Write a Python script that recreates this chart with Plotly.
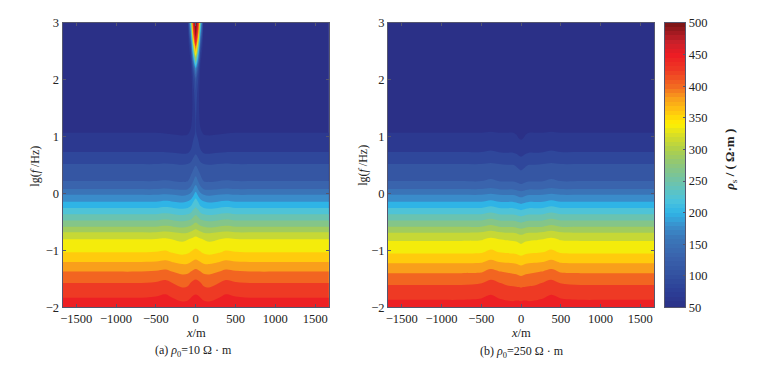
import plotly.graph_objects as go

# half-profile distances from the centre (m); the sections are drawn mirrored
x_half = [0, 30, 60, 100, 170, 280, 380, 500, 750, 1100, 1672]
lg_f = [3, 2.8, 2.6, 2.4, 2.2, 2, 1.5, 1.07, .73, .52, .22, .08, -.02, -.14, -.25, -.36,
        -.47, -.58, -.68, -.80, -1.03, -1.2, -1.37, -1.57, -1.83, -2]

rho_a = [
    [522, 460, 260, 50, 50, 50, 50, 50, 50, 50, 50],
    [505, 400, 180, 50, 50, 50, 50, 50, 50, 50, 50],
    [430, 300, 115, 50, 50, 50, 50, 50, 50, 50, 50],
    [320, 205, 80, 50, 50, 50, 50, 50, 50, 50, 50],
    [195, 120, 65, 50, 50, 50, 50, 50, 50, 50, 50],
    [125, 95, 60, 50, 50, 50, 50, 50, 50, 50, 50],
    [100, 80, 60, 52, 51, 51, 51, 51, 51, 51, 51],
    [96, 88, 75, 70, 69, 70, 71, 72, 72, 72, 72],
    [112, 105, 97, 92, 91, 93, 94, 94, 94, 94, 94],
    [135, 128, 120, 116, 115, 116, 117, 116, 116, 116, 116],
    [170, 160, 148, 138, 136, 138, 139, 138, 138, 138, 138],
    [195, 182, 168, 160, 158, 160, 162, 160, 160, 160, 160],
    [215, 200, 190, 182, 179, 182, 184, 182, 182, 182, 182],
    [235, 225, 212, 205, 201, 204, 207, 204, 204, 204, 204],
    [250, 243, 232, 226, 223, 226, 229, 226, 226, 226, 226],
    [268, 262, 253, 248, 245, 248, 251, 248, 248, 248, 248],
    [285, 280, 273, 270, 267, 270, 273, 270, 270, 270, 270],
    [305, 300, 295, 292, 289, 292, 295, 292, 292, 292, 292],
    [325, 322, 317, 313, 311, 314, 317, 314, 314, 314, 314],
    [343, 341, 338, 335, 332, 335, 339, 337, 336, 336, 336],
    [364, 362, 359, 355, 352, 356, 361, 359, 358, 358, 358],
    [385, 383, 380, 376, 375, 379, 384, 381, 380, 380, 380],
    [408, 406, 402, 398, 397, 401, 407, 404, 402, 402, 402],
    [431, 429, 425, 419, 417, 423, 430, 426, 424, 424, 424],
    [450, 449, 446, 442, 440, 445, 451, 448, 446, 446, 446],
    [463, 462, 459, 456, 455, 458, 463, 461, 460, 460, 460],
]

rho_b = [
    [50, 50, 50, 50, 50, 50, 50, 50, 50, 50, 50],
    [50, 50, 50, 50, 50, 50, 50, 50, 50, 50, 50],
    [50, 50, 50, 50, 50, 50, 50, 50, 50, 50, 50],
    [50, 50, 50, 50, 50, 50, 50, 50, 50, 50, 50],
    [50, 50, 50, 50, 50, 50, 50, 50, 50, 50, 50],
    [50, 50, 50, 50, 50, 50, 50, 50, 50, 50, 50],
    [50, 50, 50, 50, 51, 51, 51, 51, 51, 51, 51],
    [64, 66, 70, 72, 72, 72, 73, 72, 72, 72, 72],
    [86, 88, 91, 93, 93, 94, 96, 94, 94, 94, 94],
    [108, 110, 113, 115, 115, 116, 118, 116, 116, 116, 116],
    [130, 132, 135, 137, 137, 138, 141, 138, 138, 138, 138],
    [152, 154, 157, 159, 159, 160, 163, 160, 160, 160, 160],
    [174, 176, 179, 181, 181, 182, 186, 182, 182, 182, 182],
    [196, 198, 201, 203, 203, 204, 209, 204, 204, 204, 204],
    [218, 220, 223, 225, 225, 226, 232, 226, 226, 226, 226],
    [240, 242, 245, 247, 247, 248, 254, 248, 248, 248, 248],
    [262, 264, 267, 269, 269, 270, 276, 270, 270, 270, 270],
    [284, 286, 289, 291, 291, 292, 298, 292, 292, 292, 292],
    [306, 308, 311, 313, 313, 315, 320, 314, 313, 313, 313],
    [328, 330, 332, 333, 334, 336, 340, 334, 333, 333, 333],
    [350, 352, 354, 355, 356, 358, 363, 356, 355, 355, 355],
    [372, 374, 376, 377, 378, 380, 385, 378, 377, 377, 377],
    [393, 395, 397, 398, 400, 403, 408, 400, 399, 399, 399],
    [416, 417, 418, 419, 420, 425, 430, 423, 421, 421, 421],
    [441, 442, 442, 441, 442, 445, 450, 445, 443, 443, 443],
    [455, 456, 456, 455, 456, 459, 463, 458, 457, 457, 457],
]

scale_stops = [50, 75, 100, 130, 160, 180, 200, 220, 250, 275, 300, 325, 340, 360, 380, 400, 425, 450, 470, 500]
scale_cols = ["#2b3087", "#2c3e96", "#32509f", "#3a62ac", "#3a77b9", "#3a8fcc", "#2fb4e6", "#4cc3dc",
              "#70c3a8", "#8cc67c", "#aed04a", "#dde022", "#fff200", "#ffc60f", "#f9a01b", "#f26a21",
              "#ee3a24", "#ed1c24", "#c8202a", "#7a1416"]
bar_levels = [50, 57, 64, 71, 78, 85, 92, 99, 106, 113, 120, 127, 134, 141, 148, 155, 162, 169, 176, 183,
              190, 197, 204, 211, 218, 225, 232, 239, 246, 253, 260, 267, 274, 281, 288, 295, 302, 309,
              316, 323, 330, 337, 344, 351, 358, 365, 372, 379, 386, 393, 400, 407, 414, 421, 428, 435,
              442, 449, 456, 463, 470, 477, 484, 491, 498]
bar_ticks = [50, 100, 150, 200, 250, 300, 350, 400, 450, 500]
x_ticks = [-1500, -1000, -500, 0, 500, 1000, 1500]
y_ticks = [-2, -1, 0, 1, 2, 3]

W, H = 781, 371
FONT = "Liberation Serif"
colorscale = [[(v - 50) / 450, c] for v, c in zip(scale_stops, scale_cols)]
x_full = [-v for v in x_half[:0:-1]] + x_half


def yp(y):
    return (y - 7) / 0.9576


def full(rows):
    return [r[:0:-1] + r for r in rows]


def dom_x(a, b):
    return [a / W, b / W]


def dom_y(top, bot):
    return [1 - yp(bot) / H, 1 - yp(top) / H]


fig = go.Figure()
for z, xa, ya in ((rho_a, "x", "y"), (rho_b, "x2", "y2")):
    fig.add_trace(go.Contour(
        x=x_full, y=lg_f, z=full(z), xaxis=xa, yaxis=ya, zmin=68, zmax=518,
        colorscale=colorscale, showscale=False, autocontour=False,
        contours=dict(start=49.9, end=520, size=22, coloring="fill", showlines=False),
        line=dict(width=0), hoverinfo="skip"))

fig.add_trace(go.Heatmap(
    x=[0, 1], y=bar_levels, z=[[v, v] for v in bar_levels], xaxis="x3", yaxis="y3",
    zmin=50, zmax=500, colorscale=colorscale, showscale=False, hoverinfo="skip"))

axc = "#55566e"
common = dict(showline=True, linecolor=axc, linewidth=1, mirror="ticks", ticks="inside", ticklen=3,
              tickcolor=axc, tickwidth=1, showgrid=False, zeroline=False,
              tickfont=dict(family=FONT, size=12.5, color="#222"))
fig.update_layout(
    width=W, height=H, autosize=False, margin=dict(l=0, r=0, t=0, b=0, pad=0),
    paper_bgcolor="white", plot_bgcolor="white", showlegend=False,
    font=dict(family=FONT, color="#222"),
    xaxis=dict(domain=dom_x(60.7, 327.7), range=[-1672, 1672], tickvals=x_ticks, anchor="y", **common),
    yaxis=dict(domain=dom_y(23, 306), range=[-2, 3], tickvals=y_ticks, anchor="x", **common),
    xaxis2=dict(domain=dom_x(387, 653.7), range=[-1672, 1672], tickvals=x_ticks, anchor="y2", **common),
    yaxis2=dict(domain=dom_y(23, 306), range=[-2, 3], tickvals=y_ticks, anchor="x2", **common),
    xaxis3=dict(domain=dom_x(664.5, 685), range=[0, 1], showticklabels=False, showline=True, linecolor=axc,
                mirror=True, ticks="", showgrid=False, zeroline=False, anchor="y3"),
    yaxis3=dict(domain=dom_y(23, 306), range=[50, 500], side="right", tickvals=bar_ticks, anchor="x3",
                showline=True, linecolor=axc, mirror=True, ticks="inside", ticklen=2, tickcolor=axc,
                showgrid=False, zeroline=False, tickfont=dict(family=FONT, size=12.5, color="#222")),
)


def note(text, px, py, size=12.5, angle=0):
    fig.add_annotation(text=text, x=px / W, y=1 - yp(py) / H, xref="paper", yref="paper", showarrow=False,
                       xanchor="center", yanchor="middle", textangle=angle,
                       font=dict(family=FONT, size=size, color="#222"))


note("<i>x</i>/m", 194, 331)
note("<i>x</i>/m", 520, 331)
note("(a) <i>ρ</i><sub>0</sub>=10 Ω · m", 192, 349, 12)
note("(b) <i>ρ</i><sub>0</sub>=250 Ω · m", 521, 350, 12)
note("lg(<i>f</i> /Hz)", 33, 165, 12, -90)
note("lg(<i>f</i> /Hz)", 362, 165, 12, -90)
note("<b><i>ρ</i></b><sub>s</sub><b> / ( Ω·m )</b>", 731, 159, 13, -90)

fig.write_html("out.html", config=dict(displayModeBar=False),
               post_script="document.body.style.margin='0';document.documentElement.style.overflow='hidden';")
